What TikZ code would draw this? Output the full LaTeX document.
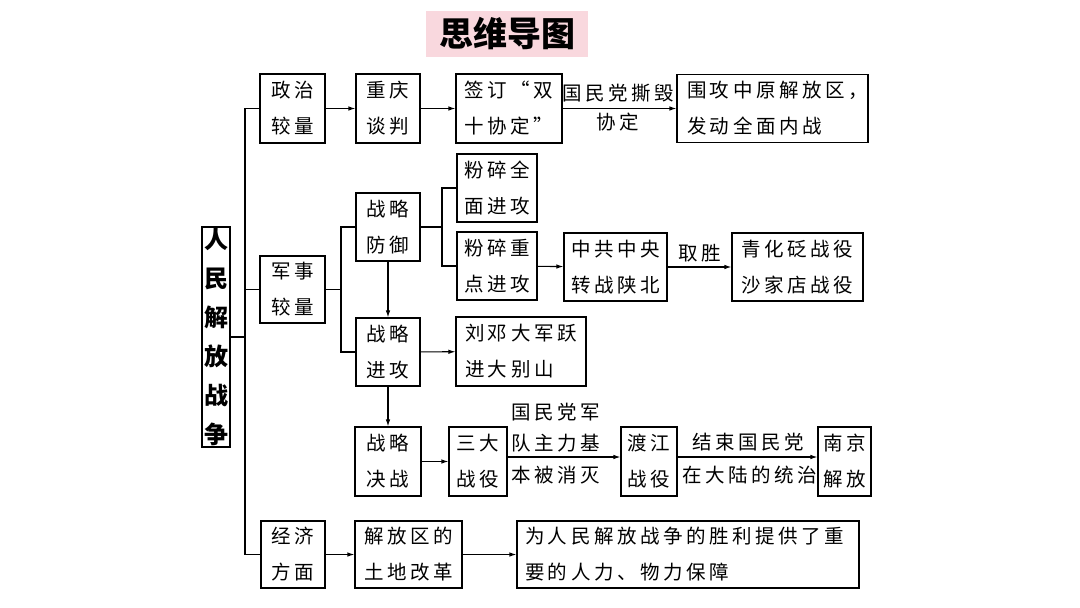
\documentclass[tikz,border=0pt]{standalone}
\usepackage{fontspec}
\newfontfamily\cjk[LetterSpace=18]{Noto Sans CJK SC}
\newfontfamily\cjkt{Noto Sans CJK SC}
\usetikzlibrary{arrows.meta}
\definecolor{titlepink}{RGB}{249,216,222}
\begin{document}
\begin{tikzpicture}[x=1pt,y=-1pt,
  box/.style={draw=black, line width=1.1pt, inner sep=0pt, align=center,
    font=\cjk\fontsize{19.5}{36}\selectfont},
  lab/.style={inner sep=0pt, font=\cjk\fontsize{19.5}{36}\selectfont},
  ln/.style={line width=1.1pt},
  arr/.style={line width=1.1pt, -{Latex[length=7pt,width=4.5pt]}}]
\fill[white] (0,0) rectangle (1080,608);
\useasboundingbox (0,0) rectangle (1080,608);
% title
\node[fill=titlepink, minimum width=162pt, minimum height=46pt, inner sep=0pt,
  font=\cjkt\bfseries\fontsize{34}{34}\selectfont] (title) at (507,34) {思维导图};
% root
\node[draw=black, line width=1.1pt, inner sep=0pt, minimum width=28pt, minimum height=220pt,
  align=center, font=\cjkt\bfseries\fontsize{24}{39}\selectfont] (root) at (216,337)
  {人\\民\\解\\放\\战\\争};
% political row
\node[box, minimum width=65pt, minimum height=69pt] (zz) at (292.5,108.5) {政治\\较量};
\node[box, minimum width=64pt, minimum height=69pt] (cq) at (388,108.5) {重庆\\谈判};
\node[box, minimum width=106pt, minimum height=69pt] (qd) at (509,108.5) {签订“双\\十协定”};
\node[box, align=left, text width=171pt, inner xsep=10pt, minimum height=68pt] (wg) at (772.5,108.5) {围攻中原解放区，\\发动全面内战};
% military
\node[box, minimum width=65pt, minimum height=67pt] (js) at (292.5,289.5) {军事\\较量};
\node[box, minimum width=64pt, minimum height=68pt] (fy) at (388,227) {战略\\防御};
\node[box, minimum width=80pt, minimum height=68pt] (fq) at (497,188) {粉碎全\\面进攻};
\node[box, minimum width=80pt, minimum height=68pt] (fz) at (497,266) {粉碎重\\点进攻};
\node[box, minimum width=103pt, minimum height=68pt] (zg) at (615.5,267) {中共中央\\转战陕北};
\node[box, minimum width=131pt, minimum height=68pt] (qh) at (797.5,267) {青化砭战役\\沙家店战役};
\node[box, minimum width=64pt, minimum height=68pt] (jg) at (388,352) {战略\\进攻};
\node[box, align=left, text width=112pt, inner xsep=9pt, minimum height=69pt] (ld) at (521,351.5) {刘邓大军跃\\进大别山};
\node[box, minimum width=66pt, minimum height=69pt] (jz) at (388,461.5) {战略\\决战};
\node[box, minimum width=58pt, minimum height=69pt] (sd) at (478,461.5) {三大\\战役};
\node[box, minimum width=56pt, minimum height=69pt] (dj) at (649,461.5) {渡江\\战役};
\node[box, minimum width=53pt, minimum height=69pt] (nj) at (844.5,461.5) {南京\\解放};
% economy
\node[box, minimum width=64pt, minimum height=67pt] (jj) at (293,554.5) {经济\\方面};
\node[box, minimum width=107pt, minimum height=67pt] (tg) at (408.5,554.5) {解放区的\\土地改革};
\node[box, align=left, text width=326pt, inner xsep=8pt, minimum height=67pt] (bz) at (688,554.5) {为人民解放战争的胜利提供了重\\要的人力、物力保障};
% labels
\node[lab] (l1) at (618.5,93) {国民党撕毁};
\node[lab] (l2) at (618,122) {协定};
\node[lab] (l3) at (700,253) {取胜};
\node[lab] (l4) at (556,412) {国民党军};
\node[lab] (l5) at (556,443) {队主力基};
\node[lab] (l6) at (556,475) {本被消灭};
\node[lab] (l7) at (748,442) {结束国民党};
\node[lab] (l8) at (750,475) {在大陆的统治};
% spine
\coordinate (sp) at (245,337);
\draw[ln] (zz.west) -- (zz.west -| sp) -- (jj.west -| sp) -- (jj.west);
\draw[ln] (root.east) -- (sp);
\draw[ln] (js.west) -- (js.west -| sp);
% military branch
\coordinate (b1) at (341,289.5);
\draw[ln] (js.east) -- (b1);
\draw[ln] (fy.west) -- (fy.west -| b1) -- (jg.west -| b1) -- (jg.west);
\coordinate (b2) at (442,227);
\draw[ln] (fy.east) -- (b2);
\draw[ln] (fq.west) -- (fq.west -| b2) -- (fz.west -| b2) -- (fz.west);
% arrows
\draw[arr] (zz) -- (cq);
\draw[arr] (cq) -- (qd);
\draw[arr] (qd) -- (wg);
\draw[arr] (fz) -- (zg);
\draw[arr] (zg) -- (qh);
\draw[arr] (fy) -- (jg);
\draw[arr] (jg) -- (jz);
\draw[arr] (jg) -- (ld);
\draw[arr] (jz) -- (sd);
\draw[arr] ([yshift=4.5pt]sd.east) -- ([yshift=4.5pt]dj.west);
\draw[arr] ([yshift=4.5pt]dj.east) -- ([yshift=4.5pt]nj.west);
\draw[arr] (jj) -- (tg);
\draw[arr] (tg) -- (bz);
\end{tikzpicture}
\end{document}
